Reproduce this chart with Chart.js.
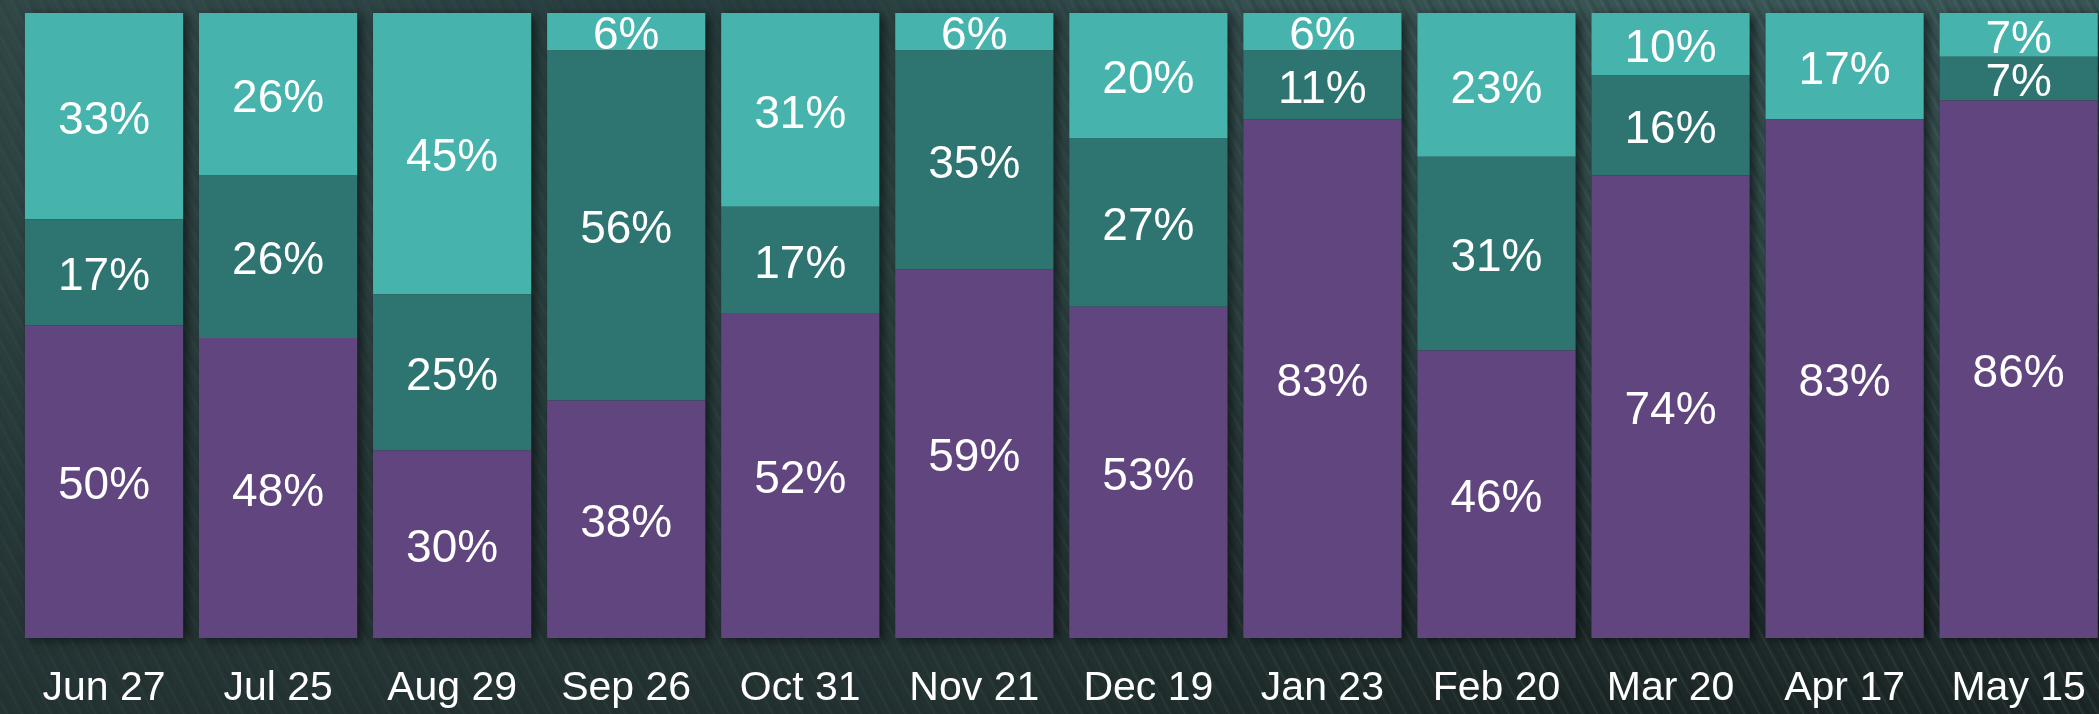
<!DOCTYPE html>
<html>
<head>
<meta charset="utf-8">
<script src="https://cdn.jsdelivr.net/npm/chart.js@4/dist/chart.umd.min.js"></script>
<style>
  html, body { margin: 0; padding: 0; width: 2099px; height: 714px; overflow: hidden; }
  body {
    background:
      radial-gradient(ellipse 500px 260px at 700px 40px, rgba(15,40,40,0.55), rgba(15,40,40,0) 100%),
      repeating-linear-gradient(62deg, rgba(120,150,150,0.0) 0px, rgba(120,150,150,0.0) 5px, rgba(140,170,170,0.12) 6px, rgba(120,150,150,0.0) 8px, rgba(0,0,0,0.12) 11px, rgba(0,0,0,0) 13px),
      linear-gradient(to bottom, #3a5555 0%, #304a49 35%, #253636 65%, #1c2626 100%);
  }
  #streak {
    position: absolute; left: 0; top: 0; width: 2099px; height: 714px;
    background: linear-gradient(to right, rgba(42,60,60,1) 0%, rgba(42,60,60,0.85) 45%, rgba(42,60,60,0) 75%);
    opacity: 0.55;
  }
  #wrap { position: absolute; left: 0; top: 0; width: 2112px; height: 714px; }
</style>
</head>
<body>
<div id="streak"></div>
<div id="wrap"><canvas id="c" width="2112" height="714"></canvas></div>
<script>
const categories = ["Jun 27","Jul 25","Aug 29","Sep 26","Oct 31","Nov 21","Dec 19","Jan 23","Feb 20","Mar 20","Apr 17","May 15"];
const bottomSeries = [50,48,30,38,52,59,53,83,46,74,83,86];
const middleSeries = [17,26,25,56,17,35,27,11,31,16,0,7];
const topSeries    = [33,26,45,6,31,6,20,6,23,10,17,7];
const yMin = 0, yMax = 100;

const FONT = '"Liberation Sans", Arial, sans-serif';

const shadowPlugin = {
  id: 'barShadow',
  beforeDatasetsDraw(chart) {
    const ctx = chart.ctx;
    const first = chart.getDatasetMeta(0).data;
    const last = chart.getDatasetMeta(chart.data.datasets.length - 1).data;
    ctx.save();
    ctx.shadowColor = 'rgba(0,0,0,0.55)';
    ctx.shadowBlur = 10;
    ctx.shadowOffsetX = 5;
    ctx.shadowOffsetY = 2;
    ctx.fillStyle = 'rgba(30,40,40,1)';
    first.forEach((el, i) => {
      const p = el.getProps(['x','base','width'], true);
      const t = last[i].getProps(['y'], true);
      ctx.fillRect(p.x - p.width/2, t.y, p.width, p.base - t.y);
    });
    ctx.restore();
  }
};

const labelPlugin = {
  id: 'segLabels',
  afterDatasetsDraw(chart) {
    const ctx = chart.ctx;
    ctx.save();
    ctx.fillStyle = '#ffffff';
    ctx.font = '46px ' + FONT;
    ctx.textAlign = 'center';
    ctx.textBaseline = 'middle';
    chart.data.datasets.forEach((ds, di) => {
      chart.getDatasetMeta(di).data.forEach((el, i) => {
        const v = ds.data[i];
        if (!v) return;
        const c = el.getCenterPoint(true);
        ctx.fillText(v + '%', c.x, c.y + 5);
      });
    });
    ctx.restore();
  }
};

function draw() {
  new Chart(document.getElementById('c'), {
    type: 'bar',
    data: {
      labels: categories,
      datasets: [
        { label: 'bottom', data: bottomSeries, backgroundColor: '#61457f', borderWidth: 0 },
        { label: 'middle', data: middleSeries, backgroundColor: '#2e7572', borderWidth: 0 },
        { label: 'top', data: topSeries, backgroundColor: '#47b3ad', borderWidth: 0 }
      ]
    },
    options: {
      responsive: false,
      animation: false,
      devicePixelRatio: 1,
      layout: { padding: { left: 17, right: 3, top: 13, bottom: 0 } },
      datasets: { bar: { barPercentage: 0.909, categoryPercentage: 1.0 } },
      plugins: { legend: { display: false }, tooltip: { enabled: false } },
      scales: {
        x: {
          stacked: true,
          grid: { display: false, drawTicks: false },
          border: { display: false },
          ticks: { color: '#ffffff', font: { family: FONT, size: 41 }, padding: 26, maxRotation: 0, autoSkip: false },
          afterFit(scale) { scale.height = 76; }
        },
        y: {
          stacked: true, display: false, min: yMin, max: yMax
        }
      }
    },
    plugins: [shadowPlugin, labelPlugin]
  });
}

if (document.fonts && document.fonts.load) {
  Promise.all([document.fonts.load('46px "Liberation Sans"'), document.fonts.load('41px "Liberation Sans"')])
    .then(draw, draw);
} else { draw(); }
</script>
</body>
</html>
